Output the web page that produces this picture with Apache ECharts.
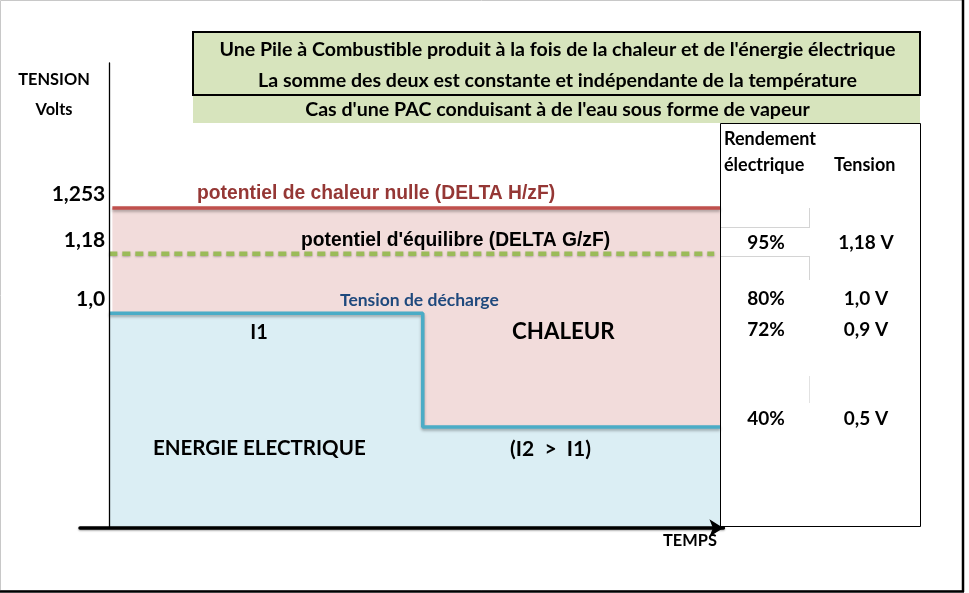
<!DOCTYPE html>
<html>
<head>
<meta charset="utf-8">
<script src="https://cdn.jsdelivr.net/npm/echarts@6/dist/echarts.min.js"></script>
<style>
html,body{margin:0;padding:0;background:#fff;}
#chart{width:969px;height:593px;}
</style>
</head>
<body>
<div id="chart"></div>
<script>
// ---- data (schematic diagram: heights/time in drawing units 0–100) ----
const timeBreaks = [0, 51.3, 100];                 // start, switch I1 -> I2, end
const levelHeights = [68.8, 59.0, 46.2, 21.7];     // ΔH/zF, ΔG/zF, U(I1), U(I2)
const levelTickLabels = ['1,253', '1,18', '1,0'];
const titleLines = [
  "Une Pile à Combustible produit à la fois de la chaleur et de l'énergie électrique",
  "La somme des deux est constante et indépendante de la température",
  "Cas d'une PAC conduisant à de l'eau sous forme de vapeur"
];
const rendementCol = ['95%', '80%', '72%', '40%'];
const tensionCol = ['1,18 V', '1,0 V', '0,9 V', '0,5 V'];

const CAL = 'Lato, "Open Sans", sans-serif';
const ARI = '"Liberation Sans", Arial, sans-serif';

const chart = echarts.init(document.getElementById('chart'), null, {renderer: 'canvas'});

const heatSeries = [[0.5, levelHeights[0]], [timeBreaks[2], levelHeights[0]]];
const equilSeries = [[timeBreaks[0], levelHeights[1]], [99, levelHeights[1]]];
const dischargeSeries = [
  [timeBreaks[0], levelHeights[2]], [timeBreaks[1], levelHeights[2]],
  [timeBreaks[1], levelHeights[3]], [timeBreaks[2], levelHeights[3]]
];

function txt(x, y, text, size, opts) {
  opts = opts || {};
  return {
    type: 'text', x: x, y: y, z: 20,
    style: {
      text: text, fill: opts.fill || '#000',
      font: 'bold ' + size + 'px ' + (opts.font || CAL),
      textAlign: opts.align || 'left', textVerticalAlign: 'middle'
    }
  };
}

const tableRows = [243, 299, 330, 419];
const graphics = [
  // frame
  {type:'rect', shape:{x:0.5,y:0.5,width:962,height:590}, style:{fill:'none', stroke:'#c8c8c8', lineWidth:1}, z:1},
  {type:'line', shape:{x1:963,y1:0,x2:963,y2:592}, style:{stroke:'#000', lineWidth:2.5}, z:2},
  {type:'line', shape:{x1:0,y1:591.5,x2:964,y2:591.5}, style:{stroke:'#000', lineWidth:2.5}, z:2},
  // title boxes
  {type:'rect', shape:{x:193,y:95,width:727,height:28}, style:{fill:'#d7e4bd'}, z:3},
  {type:'rect', shape:{x:193,y:32,width:727,height:63}, style:{fill:'#d7e4bd', stroke:'#000', lineWidth:2}, z:4},
  txt(557.5, 50, titleLines[0], 19.6, {align:'center'}),
  txt(557.5, 81, titleLines[1], 19.6, {align:'center'}),
  txt(557.5, 110, titleLines[2], 19.6, {align:'center'}),
  // axis titles
  txt(54, 80, 'TENSION', 16.4, {align:'center'}),
  txt(54, 110, 'Volts', 16.4, {align:'center'}),
  txt(663, 541, 'TEMPS', 16.4),
  // table
  {type:'rect', shape:{x:720.5,y:123.5,width:200,height:403}, style:{fill:'none', stroke:'#000', lineWidth:1}, z:9},
  {type:'line', shape:{x1:721,y1:227.5,x2:810,y2:227.5}, style:{stroke:'#d4d4d4', lineWidth:1}, z:9},
  {type:'line', shape:{x1:721,y1:256.5,x2:810,y2:256.5}, style:{stroke:'#d4d4d4', lineWidth:1}, z:9},
  {type:'line', shape:{x1:809.5,y1:208,x2:809.5,y2:227}, style:{stroke:'#d4d4d4', lineWidth:1}, z:9},
  {type:'line', shape:{x1:809.5,y1:257,x2:809.5,y2:280}, style:{stroke:'#d4d4d4', lineWidth:1}, z:9},
  {type:'line', shape:{x1:809.5,y1:376,x2:809.5,y2:403}, style:{stroke:'#e2e2e2', lineWidth:1}, z:9},
  txt(724, 139, 'Rendement', 18),
  txt(724, 165, 'électrique', 18),
  txt(834, 165, 'Tension', 18),
  // annotations
  txt(197, 194, 'potentiel de chaleur nulle (DELTA H/zF)', 19.3, {font: ARI, fill:'#953735'}),
  txt(301, 241, "potentiel d'équilibre (DELTA G/zF)", 19.3, {font: ARI}),
  txt(340, 300, 'Tension de décharge', 17.5, {fill:'#1f497d'}),
  txt(259, 333, 'I1', 20, {align:'center'}),
  txt(512, 332, 'CHALEUR', 22.3),
  txt(153, 448, 'ENERGIE ELECTRIQUE', 20.5),
  txt(510, 449, '(I2  >  I1)', 21)
];
rendementCol.forEach(function(r, i){ graphics.push(txt(766, tableRows[i], r, 19, {align:'center'})); });
tensionCol.forEach(function(t, i){ graphics.push(txt(866, tableRows[i], t, 19, {align:'center'})); });

chart.setOption({
  animation: false,
  backgroundColor: '#fff',
  grid: {left: 80, top: 63, width: 643.4, height: 465},
  xAxis: {
    type: 'value', min: -4.8, max: 100.5, z: 12,
    axisLine: {show: true, onZero: true, symbol: ['none', 'arrow'], symbolSize: [13, 14],
      lineStyle: {color: '#000', width: 3.5, shadowColor:'rgba(0,0,0,0.35)', shadowBlur:2, shadowOffsetY:1}},
    axisTick: {show: false}, axisLabel: {show: false}, splitLine: {show: false}
  },
  yAxis: {
    type: 'value', min: 0, max: 100, z: 10, offset: -29.3,
    axisLine: {show: true, onZero: false, lineStyle: {color: '#000', width: 1.3}},
    axisTick: {show: false}, splitLine: {show: false},
    axisLabel: {
      show: true, customValues: levelHeights.slice(0, 3), margin: 4,
      formatter: function (v) { return levelTickLabels[levelHeights.indexOf(v)]; },
      fontFamily: CAL, fontWeight: 'bold', fontSize: 21, color: '#000',
      verticalAlign: 'bottom', padding: [0, 0, 3, 0]
    }
  },
  series: [
    {
      type: 'line', name: 'Chaleur', data: heatSeries, symbol: 'none', z: 2,
      lineStyle: {color: '#c0504d', width: 3.5, shadowColor:'rgba(0,0,0,0.3)', shadowBlur:3, shadowOffsetY:2},
      areaStyle: {color: '#f2dcdb', opacity: 1}
    },
    {
      type: 'line', name: 'Tension de décharge', data: dischargeSeries, symbol: 'none', z: 3,
      lineStyle: {color: '#4bacc6', width: 3.5, shadowColor:'rgba(0,0,0,0.3)', shadowBlur:3, shadowOffsetY:2},
      areaStyle: {color: '#dbeef4', opacity: 1}
    },
    {
      type: 'line', name: 'Equilibre', data: equilSeries, symbol: 'none', z: 4,
      lineStyle: {color: '#9bbb59', width: 4.5, type: [8, 5], shadowColor:'rgba(0,0,0,0.25)', shadowBlur:2, shadowOffsetY:1}
    }
  ],
  graphic: graphics
});
</script>
</body>
</html>
